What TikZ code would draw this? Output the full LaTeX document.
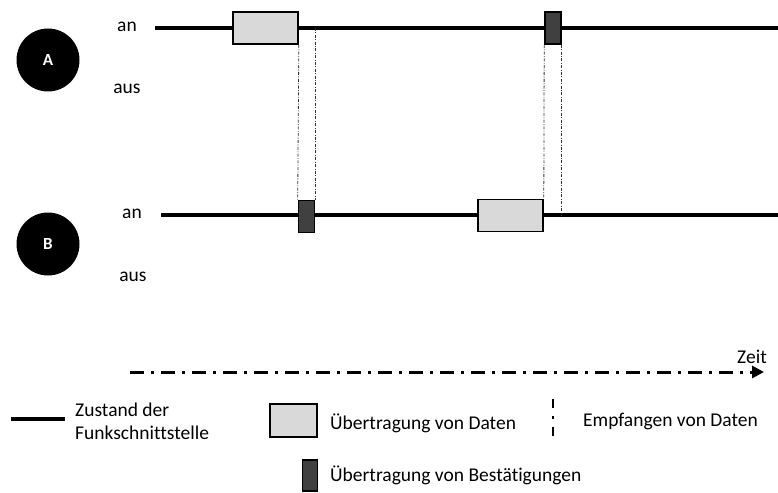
\documentclass[tikz,border=0pt]{standalone}
\usepackage{fontspec}
\setmainfont{Carlito}[Ligatures=NoCommon]
\usetikzlibrary{arrows.meta}
\tikzset{
  station/.style={circle,fill=black,text=white,font=\bfseries\fontsize{17}{19}\selectfont,minimum size=63pt,inner sep=0pt},
  funk/.style={line width=4pt},
  datbox/.style={draw=black,line width=1.6pt,fill=black!15,minimum width=65pt,minimum height=32pt,inner sep=0pt},
  ackbox/.style={draw=black,line width=1.6pt,fill=black!75,minimum width=16pt,minimum height=32pt,inner sep=0pt},
  sync/.style={black!80,line width=0.8pt,dash pattern=on 3pt off 1.5pt on 0.8pt off 1.5pt},
  lbl/.style={inner sep=0pt,anchor=west}
}
\begin{document}
\begin{tikzpicture}[x=1pt,y=-1pt,font=\fontsize{19.5}{23}\selectfont]
\useasboundingbox (0,0) rectangle (778,492);
% Funkschnittstellen A und B
\path (155,28) coordinate (a0) (778,28) coordinate (a1)
      (161,215) coordinate (b0) (778,215) coordinate (b1);
\draw[funk] (a0)--(a1) (b0)--(b1);
\foreach \s/\y in {A/60,B/244}{
    \node[station] (st\s) at (48,\y) {\s};
}
\node (anA) at (127,27) {an};
\node (ausA) at (127,89) {aus};
\node (anB) at (132,214) {an};
\node (ausB) at (133,277) {aus};
% Uebertragungen
\node[datbox] (datA) at (265.5,28) {};
\node[ackbox] (ackA) at (553,28) {};
\node[ackbox] (ackB) at (306.5,216.5) {};
\node[datbox] (datB) at (510.5,215.5) {};
\draw[sync] (datA.south east)--(ackB.north west);
\draw[sync] (ackB.east |- a0)--(ackB.north east);
\draw[sync] (ackA.south west)--(datB.north east);
\draw[sync] (ackA.south east)--(ackA.east |- b0);
% Zeitachse
\path (130,372) coordinate (t0) (764,372) coordinate (t1);
\draw[line width=3pt,dash pattern=on 14pt off 7pt on 3pt off 7pt,-{Triangle[length=12pt,width=12pt]}] (t0)--(t1);
\node (zeit) at (752,357) {Zeit};
% Legende
\path (11,419) coordinate (l0) (65,419) coordinate (l1);
\draw[funk] (l0)--(l1);
\node[lbl,align=left] (lgFunk) at (75,421) {Zustand der\\Funkschnittstelle};
\node[datbox,minimum width=47pt,minimum height=33pt] (lgDat) at (293.5,420.5) {};
\node[lbl] (lgDatT) at (330,423) {Übertragung von Daten};
\path (553,399) coordinate (e0) (553,437) coordinate (e1);
\draw[line width=2.8pt,dash pattern=on 9pt off 8pt on 3pt off 8pt] (e0)--(e1);
\node[lbl] (lgEmpf) at (583,421) {Empfangen von Daten};
\node[ackbox,minimum width=15pt,minimum height=31pt] (lgAck) at (310,475.5) {};
\node[lbl] (lgAckT) at (330,475) {Übertragung von Bestätigungen};
\end{tikzpicture}
\end{document}
